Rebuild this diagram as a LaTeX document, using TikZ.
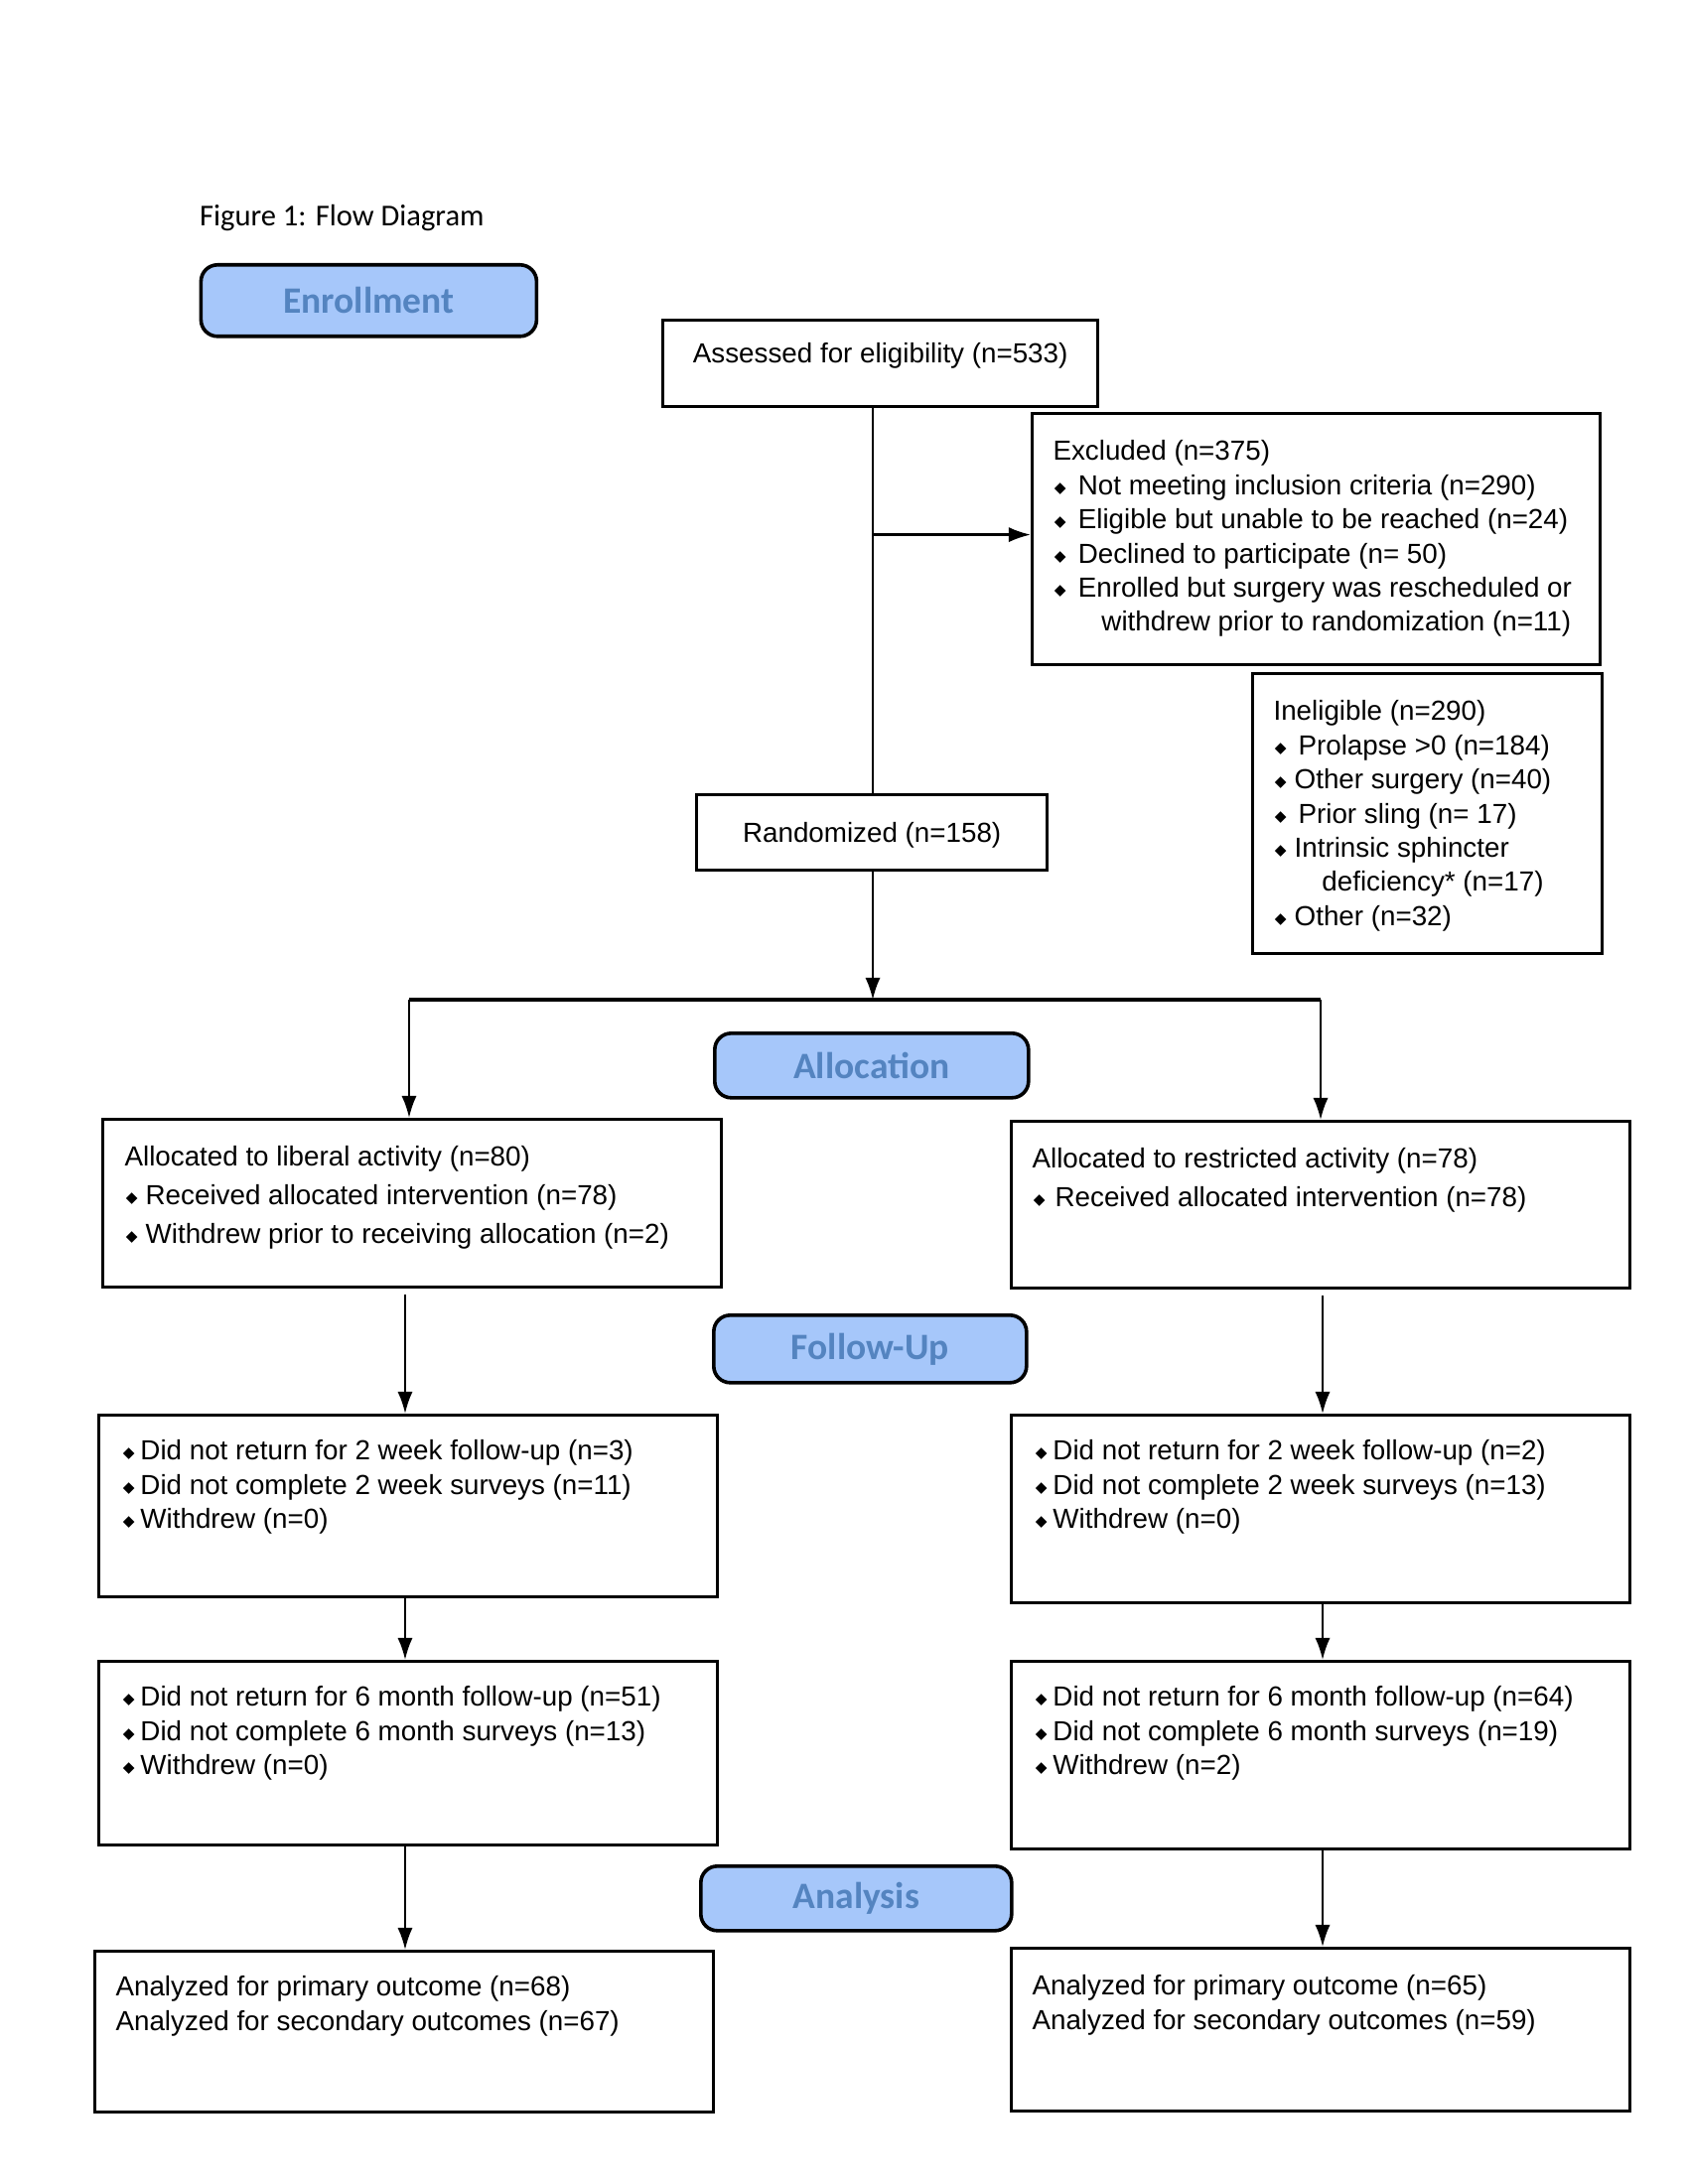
\documentclass[tikz,border=0pt]{standalone}
\usepackage{fontspec}
\setmainfont{Liberation Sans}
\newfontfamily\calibri{Carlito}
\newfontfamily\dejavu{DejaVu Sans}
\usetikzlibrary{arrows.meta}
\definecolor{phasefill}{RGB}{166,199,250}
\definecolor{phasetext}{RGB}{84,132,192}
\newcommand\bul{\raisebox{0.7pt}{\dejavu\fontsize{5.5}{5.5}\selectfont ◆}}
\newcommand\bi[1]{\hspace*{0.5pt}\makebox[#1][l]{\bul}}
\begin{document}
\begin{tikzpicture}[x=0.36pt,y=-0.36pt,
 box/.style={draw,line width=1.2pt,inner sep=0,anchor=north west,font=\fontsize{10}{12.4}\selectfont},
 txt/.style={inner sep=0,anchor=north west,align=left,font=\fontsize{10}{12.4}\selectfont},
 phase/.style={draw,line width=1.3pt,fill=phasefill,rounded corners=6pt,inner sep=0,anchor=north west,font=\calibri\bfseries\fontsize{13.5}{16}\selectfont,text=phasetext},
 conn/.style={line width=0.8pt},
 arr/.style={conn,-{Latex[length=8pt,width=5.5pt]}}]
\useasboundingbox (0,0) rectangle (1700,2200);

% title
\node[inner sep=0,anchor=west,font=\calibri\fontsize{11}{13}\selectfont] (title) at (200.6,220) {Figure 1: Flow Diagram};

% phase labels
\node[phase,minimum width=338*0.36pt,minimum height=72*0.36pt] (enroll) at (200.6,265) {Enrollment};
\node[phase,minimum width=316*0.36pt,minimum height=65*0.36pt] (alloc) at (718,1039) {Allocation};
\node[phase,minimum width=315*0.36pt,minimum height=68*0.36pt] (follow) at (717,1323) {Follow-Up};
\node[phase,minimum width=313*0.36pt,minimum height=65*0.36pt] (analysis) at (704,1878) {Analysis};

% enrollment boxes
\node[box,minimum width=438*0.36pt,minimum height=87*0.36pt,text depth=8pt] (assess) at (666,321) {Assessed for eligibility (n=533)};
\node[box,minimum width=572*0.36pt,minimum height=253*0.36pt] (excl) at (1038,415) {};
\node[txt] (excltxt) at (1060,443) {Excluded (n=375)\\
\bi{8.6pt}Not meeting inclusion criteria (n=290)\\
\bi{8.6pt}Eligible but unable to be reached (n=24)\\
\bi{8.6pt}Declined to participate (n= 50)\\
\bi{8.6pt}Enrolled but surgery was rescheduled or\\
\hspace*{17.6pt}withdrew prior to randomization (n=11)};
\node[box,minimum width=352*0.36pt,minimum height=282*0.36pt] (inel) at (1259.5,677) {};
\node[txt] (ineltxt) at (1282,705) {Ineligible (n=290)\\
\bi{8.5pt}Prolapse >0 (n=184)\\
\bi{7.1pt}Other surgery (n=40)\\
\bi{8.5pt}Prior sling (n= 17)\\
\bi{7.1pt}Intrinsic sphincter\\
\hspace*{17.6pt}deficiency* (n=17)\\
\bi{7.1pt}Other (n=32)};
\node[box,minimum width=353*0.36pt,minimum height=76*0.36pt,text depth=0pt] (rand) at (700,799) {Randomized (n=158)};

% allocation
\node[box,minimum width=623*0.36pt,minimum height=169*0.36pt] (lalloc) at (102,1126) {};
\node[txt,font=\fontsize{10}{14}\selectfont] (lalloctxt) at (125,1154) {Allocated to liberal activity (n=80)\\
\bi{7.1pt}Received allocated intervention (n=78)\\
\bi{7.1pt}Withdrew prior to receiving allocation (n=2)};
\node[box,minimum width=623*0.36pt,minimum height=168*0.36pt] (ralloc) at (1017,1128) {};
\node[txt,font=\fontsize{10}{14}\selectfont] (ralloctxt) at (1039,1156) {Allocated to restricted activity (n=78)\\
\bi{7.8pt}Received allocated intervention (n=78)};

% follow-up 2 weeks
\node[box,minimum width=623*0.36pt,minimum height=183*0.36pt] (lfa) at (98,1424) {};
\node[txt] (lfatxt) at (122,1450) {\bi{6.3pt}Did not return for 2 week follow-up (n=3)\\
\bi{6.3pt}Did not complete 2 week surveys (n=11)\\
\bi{6.3pt}Withdrew (n=0)};
\node[box,minimum width=623*0.36pt,minimum height=189*0.36pt] (rfa) at (1017,1424) {};
\node[txt] (rfatxt) at (1041,1450) {\bi{6.3pt}Did not return for 2 week follow-up (n=2)\\
\bi{6.3pt}Did not complete 2 week surveys (n=13)\\
\bi{6.3pt}Withdrew (n=0)};

% follow-up 6 months
\node[box,minimum width=623*0.36pt,minimum height=185*0.36pt] (lfb) at (98,1672) {};
\node[txt] (lfbtxt) at (122,1698) {\bi{6.3pt}Did not return for 6 month follow-up (n=51)\\
\bi{6.3pt}Did not complete 6 month surveys (n=13)\\
\bi{6.3pt}Withdrew (n=0)};
\node[box,minimum width=623*0.36pt,minimum height=189*0.36pt] (rfb) at (1017,1672) {};
\node[txt] (rfbtxt) at (1041,1698) {\bi{6.3pt}Did not return for 6 month follow-up (n=64)\\
\bi{6.3pt}Did not complete 6 month surveys (n=19)\\
\bi{6.3pt}Withdrew (n=2)};

% analysis
\node[box,minimum width=623*0.36pt,minimum height=162*0.36pt] (lan) at (94,1964) {};
\node[txt] (lantxt) at (116,1990) {Analyzed for primary outcome (n=68)\\
Analyzed for secondary outcomes (n=67)};
\node[box,minimum width=623*0.36pt,minimum height=164*0.36pt] (ran) at (1017,1961) {};
\node[txt] (rantxt) at (1039,1989) {Analyzed for primary outcome (n=65)\\
Analyzed for secondary outcomes (n=59)};

% connectors
\coordinate (branch) at (879,538.6);
\coordinate (bm) at (879,1007);
\coordinate (bl) at (412,1007);
\coordinate (br) at (1330,1007);
\coordinate (lx) at (408,0);
\coordinate (rx) at (1332,0);
\draw[conn] (assess.south -| branch) -- (rand.north -| branch);
\draw[arr] (branch) -- (branch -| excl.west);
\draw[arr] (rand.south -| bm) -- (bm);
\draw[line width=1.2pt] (bl) -- (br);
\draw[arr] (bl) -- (bl |- lalloc.north);
\draw[arr] (br) -- (br |- ralloc.north);
\draw[arr] ([yshift=-2pt]lx |- lalloc.south) -- (lx |- lfa.north);
\draw[arr] ([yshift=-2pt]rx |- ralloc.south) -- (rx |- rfa.north);
\draw[arr] (lx |- lfa.south) -- (lx |- lfb.north);
\draw[arr] (rx |- rfa.south) -- (rx |- rfb.north);
\draw[arr] (lx |- lfb.south) -- (lx |- lan.north);
\draw[arr] (rx |- rfb.south) -- (rx |- ran.north);
\end{tikzpicture}
\end{document}
